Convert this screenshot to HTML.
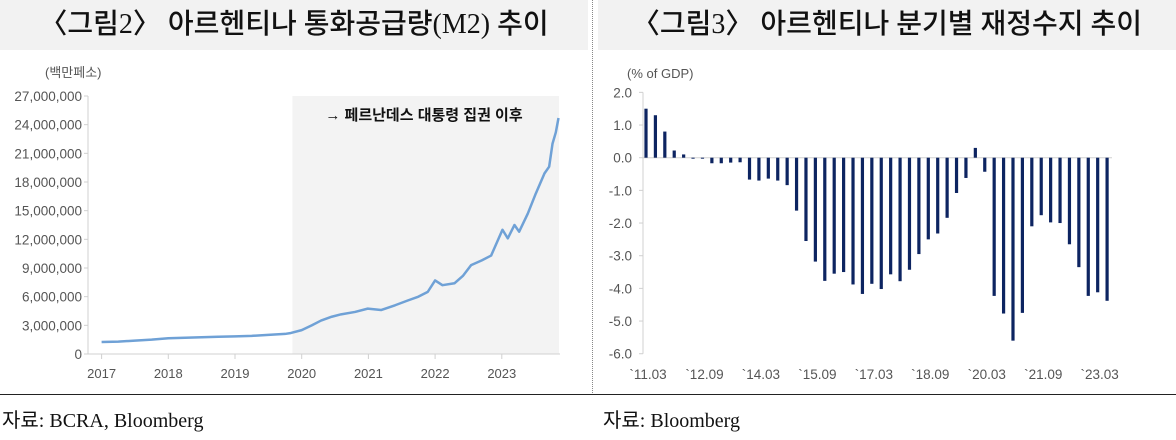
<!DOCTYPE html>
<html><head><meta charset="utf-8">
<style>
body{margin:0;width:1176px;height:440px;background:#fff;overflow:hidden;position:relative;font-family:"Liberation Sans","Noto Sans CJK KR",sans-serif}
.title{position:absolute;top:0;height:50px;background:#f2f2f2;text-align:center;line-height:50px;font-family:"Liberation Serif","Noto Sans CJK KR",serif;font-size:28px;color:#111;font-weight:500}
.src{position:absolute;top:404px;font-family:"Liberation Serif","Noto Sans CJK KR",serif;font-size:20px;color:#111}
svg text{font-family:"Liberation Sans","Noto Sans CJK KR",sans-serif}
</style></head><body>
<div class="title" style="left:0;width:588px">〈그림2〉 아르헨티나 통화공급량(M2) 추이</div>
<div class="title" style="left:598px;width:578px">〈그림3〉 아르헨티나 분기별 재정수지 추이</div>
<div style="position:absolute;left:592px;top:0;height:395px;border-left:1px dotted #888"></div>
<div style="position:absolute;left:0;top:394px;width:1176px;border-top:1px solid #222"></div>
<div class="src" style="left:2px">자료: BCRA, Bloomberg</div>
<div class="src" style="left:603px">자료: Bloomberg</div>
<svg id="c" width="1176" height="440" style="position:absolute;left:0;top:0"></svg>
<script>
// Chart 2 data (M2, millions of pesos, in millions of millions)
const m2Dates=[2017.0,2017.25,2017.5,2017.75,2018.0,2018.25,2018.5,2018.75,2019.0,2019.25,2019.5,2019.75,2019.84,2020.0,2020.15,2020.29,2020.45,2020.59,2020.8,2020.99,2021.19,2021.4,2021.59,2021.75,2021.89,2022.0,2022.11,2022.29,2022.42,2022.54,2022.7,2022.84,2023.01,2023.09,2023.19,2023.26,2023.39,2023.51,2023.64,2023.71,2023.76,2023.81,2023.85];
const m2Values=[1.25,1.3,1.4,1.5,1.65,1.7,1.75,1.8,1.85,1.9,2.0,2.1,2.2,2.5,3.0,3.5,3.9,4.15,4.4,4.75,4.6,5.1,5.6,6.0,6.5,7.7,7.2,7.4,8.2,9.3,9.8,10.3,13.0,12.1,13.5,12.8,14.7,16.8,18.9,19.6,22.0,23.2,24.7];
const yTicks2=[0,3,6,9,12,15,18,21,24,27];
const yTickLabels2=["0","3,000,000","6,000,000","9,000,000","12,000,000","15,000,000","18,000,000","21,000,000","24,000,000","27,000,000"];
const xYears2=[2017,2018,2019,2020,2021,2022,2023];
const shadeStart=2019.86;
// Chart 3 data
const fiscalLabels=["`11.03","`12.09","`14.03","`15.09","`17.03","`18.09","`20.03","`21.09","`23.03"];
const fiscalValues=[1.5,1.3,0.8,0.22,0.1,-0.03,-0.03,-0.17,-0.17,-0.15,-0.14,-0.67,-0.7,-0.64,-0.7,-0.84,-1.62,-2.55,-3.18,-3.77,-3.55,-3.5,-3.88,-4.17,-3.86,-4.02,-3.57,-3.78,-3.43,-2.95,-2.5,-2.32,-1.84,-1.08,-0.62,0.3,-0.43,-4.23,-4.77,-5.6,-4.75,-2.1,-1.76,-1.98,-2.0,-2.65,-3.35,-4.23,-4.12,-4.38];
const yTicks3=[2,1,0,-1,-2,-3,-4,-5,-6];

const svg=document.getElementById('c');const NS='http://www.w3.org/2000/svg';
function mk(t,a,txt){const e=document.createElementNS(NS,t);for(const k in a)e.setAttribute(k,a[k]);if(txt!==undefined)e.textContent=txt;svg.appendChild(e);return e;}
// chart 2 axes
const x2=d=>101.6+(d-2017)*66.7, y2=v=>354-v*9.556;
let e=mk('rect',{x:x2(shadeStart),y:y2(27),width:559-x2(shadeStart),height:y2(0)-y2(27),fill:'#f3f3f3'});


e=mk('text',{x:424,y:120,'text-anchor':'middle','font-size':15,'font-weight':'bold',fill:'#111'},'→ 페르난데스 대통령 집권 이후');


mk('line',{x1:88,y1:y2(27),x2:88,y2:y2(0),stroke:'#d0d0d0'});
mk('line',{x1:88,y1:y2(0),x2:560,y2:y2(0),stroke:'#d0d0d0'});
yTicks2.forEach((v,i)=>{mk('line',{x1:84,x2:88,y1:y2(v),y2:y2(v),stroke:'#d0d0d0'});
 e=mk('text',{x:82,y:y2(v)+5,'text-anchor':'end','font-size':13.5,fill:'#555'},yTickLabels2[i]);
 
 });
xYears2.forEach(yr=>{mk('line',{x1:x2(yr),x2:x2(yr),y1:354,y2:359,stroke:'#d0d0d0'});
 e=mk('text',{x:x2(yr),y:378,'text-anchor':'middle','font-size':13,fill:'#555'},String(yr));
 
 });
e=mk('text',{x:45,y:77,'font-size':13,fill:'#555'},'(백만페소)');


e=mk('polyline',{points:m2Dates.map((d,i)=>x2(d)+','+y2(m2Values[i])).join(' '),fill:'none',stroke:'#6fa1d6','stroke-width':2.5,'stroke-linejoin':'round'});


// chart 3
const x3=i=>646+i*9.41, y3=v=>157.7-v*32.67;
mk('line',{x1:643,y1:y3(2),x2:643,y2:y3(-6),stroke:'#d0d0d0'});
mk('line',{x1:643,y1:y3(0),x2:1112,y2:y3(0),stroke:'#d0d0d0'});
yTicks3.forEach(v=>{mk('line',{x1:639,x2:643,y1:y3(v),y2:y3(v),stroke:'#d0d0d0'});
 e=mk('text',{x:632,y:y3(v)+5,'text-anchor':'end','font-size':13.5,fill:'#555'},v.toFixed(1));
 
 });
fiscalLabels.forEach((l,k)=>{e=mk('text',{x:x3(k*6)+2,y:379,'text-anchor':'middle','font-size':13.5,fill:'#555'},l);
 
 });
e=mk('text',{x:627,y:78,'font-size':13,fill:'#555'},'(% of GDP)');


fiscalValues.forEach((v,i)=>{const a=y3(Math.max(v,0)),b=y3(Math.min(v,0));
 e=mk('rect',{x:x3(i)-1.6,y:a,width:3.2,height:Math.max(b-a,0.5),fill:'#0d2461'});
 
 });
</script>
</body></html>
